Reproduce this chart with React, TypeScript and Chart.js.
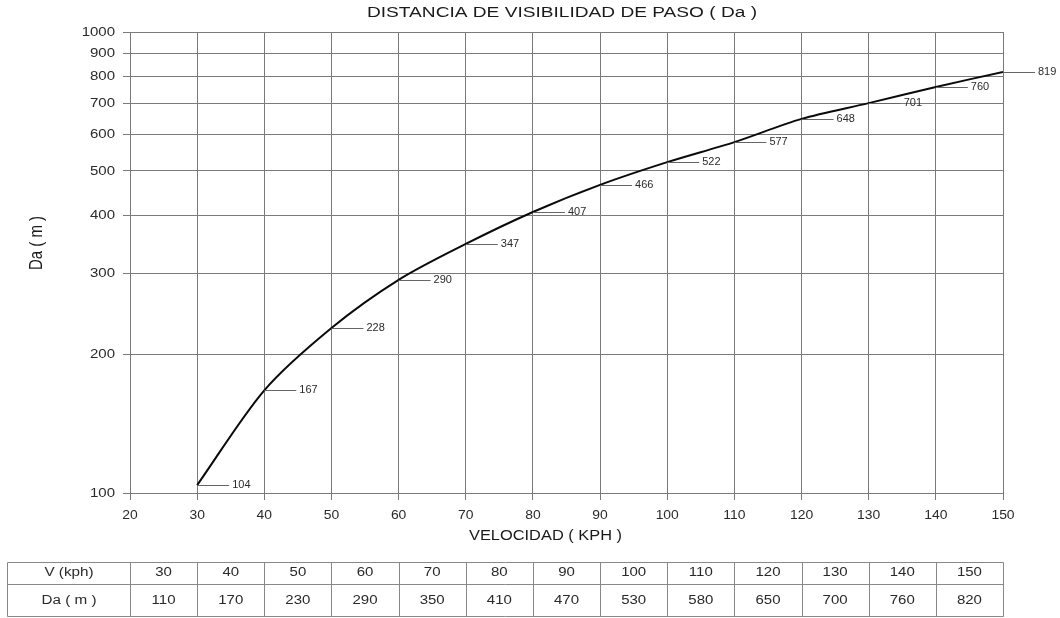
import React, { useEffect, useRef } from "react";
import { Chart, registerables } from "chart.js";

Chart.register(...registerables);

const chartTitle = "DISTANCIA DE VISIBILIDAD DE PASO ( Da )";
const xTitle = "VELOCIDAD ( KPH )";
const yTitle = "Da ( m )";

const speeds = [30, 40, 50, 60, 70, 80, 90, 100, 110, 120, 130, 140, 150];
const distances = [104, 167, 228, 290, 347, 407, 466, 522, 577, 648, 701, 760, 819];
const tableDistances = [110, 170, 230, 290, 350, 410, 470, 530, 580, 650, 700, 760, 820];
const xTicks = [20, 30, 40, 50, 60, 70, 80, 90, 100, 110, 120, 130, 140, 150];
const yTicks = [100, 200, 300, 400, 500, 600, 700, 800, 900, 1000];
const tableRowLabels = ["V (kph)", "Da ( m )"];

const FONT = '"Liberation Sans", Arial, Helvetica, sans-serif';
const GRID = "#7a7a7a";
const TEXT = "#2a2a2a";

function drawText(
  ctx: CanvasRenderingContext2D,
  text: string,
  x: number,
  y: number,
  size: number,
  sx: number,
  align: CanvasTextAlign,
  color: string,
  targetWidth?: number
) {
  ctx.save();
  ctx.font = `${size}px ${FONT}`;
  ctx.fillStyle = color;
  ctx.textAlign = align;
  ctx.textBaseline = "middle";
  let s = sx;
  if (targetWidth) {
    const w = ctx.measureText(text).width;
    s = targetWidth / w;
  }
  ctx.translate(x, y);
  ctx.scale(s, 1);
  ctx.fillText(text, 0, 0);
  ctx.restore();
}

const overlayPlugin = {
  id: "overlay",
  afterDraw(chart: any) {
    const ctx: CanvasRenderingContext2D = chart.ctx;
    const xs = chart.scales.x;
    const ys = chart.scales.y;

    // Title
    drawText(ctx, chartTitle, 562, 13, 14, 1, "center", "#1a1a1a", 390);
    // X title
    drawText(ctx, xTitle, 545.5, 536, 14, 1, "center", "#1a1a1a", 153);
    // Y title (rotated)
    ctx.save();
    ctx.font = `15px ${FONT}`;
    ctx.fillStyle = "#1a1a1a";
    ctx.textAlign = "center";
    ctx.textBaseline = "alphabetic";
    ctx.translate(42, 243);
    ctx.rotate(-Math.PI / 2);
    ctx.scale(1, 1.25);
    ctx.fillText(yTitle, 0, 0);
    ctx.restore();

    // Y tick labels
    yTicks.forEach((v) => {
      drawText(ctx, String(v), 115, ys.getPixelForValue(v) + 0.5, 12, 1.25, "right", TEXT);
    });
    // X tick labels
    xTicks.forEach((v) => {
      drawText(ctx, String(v), xs.getPixelForValue(v), 515, 13, 1.07, "center", TEXT);
    });

    // Point leader lines and value labels
    speeds.forEach((s, i) => {
      const px = xs.getPixelForValue(s);
      const py = Math.round(ys.getPixelForValue(distances[i])) + 0.5;
      ctx.save();
      ctx.strokeStyle = "#666666";
      ctx.lineWidth = 1;
      ctx.beginPath();
      ctx.moveTo(px, py);
      ctx.lineTo(px + 32, py);
      ctx.stroke();
      ctx.restore();
      drawText(ctx, String(distances[i]), px + 35, py, 10, 1.1, "left", TEXT);
    });

    // Table
    const left = 7.5;
    const top = 562.5;
    const mid = 584.5;
    const bottom = 616.5;
    const colX = xTicks.map((v) => Math.round(xs.getPixelForValue(v)) + 0.5);
    const right = colX[colX.length - 1];
    ctx.save();
    ctx.strokeStyle = "#888888";
    ctx.lineWidth = 1;
    ctx.beginPath();
    [top, mid, bottom].forEach((y) => {
      ctx.moveTo(left, y);
      ctx.lineTo(right, y);
    });
    [left, ...colX].forEach((x) => {
      ctx.moveTo(x, top);
      ctx.lineTo(x, bottom);
    });
    ctx.stroke();
    ctx.restore();

    const rowY = [573, 601];
    const firstCenter = (left + colX[0]) / 2;
    drawText(ctx, tableRowLabels[0], firstCenter, rowY[0], 12.5, 1.22, "center", TEXT);
    drawText(ctx, tableRowLabels[1], firstCenter, rowY[1], 12.5, 1.22, "center", TEXT);
    speeds.forEach((s, i) => {
      const cx = (xs.getPixelForValue(s - 10) + xs.getPixelForValue(s)) / 2;
      drawText(ctx, String(s), cx, rowY[0], 12.5, 1.2, "center", TEXT);
      drawText(ctx, String(tableDistances[i]), cx, rowY[1], 12.5, 1.2, "center", TEXT);
    });
  },
};

export default function App() {
  const ref = useRef<HTMLCanvasElement | null>(null);

  useEffect(() => {
    if (!ref.current) return;
    const chart = new Chart(ref.current, {
      type: "line",
      data: {
        datasets: [
          {
            data: speeds.map((s, i) => ({ x: s, y: distances[i] })),
            borderColor: "#0a0a0a",
            borderWidth: 2,
            pointRadius: 0,
            tension: 0.3,
            fill: false,
          },
        ],
      },
      options: {
        responsive: false,
        animation: false,
        devicePixelRatio: 1,
        layout: { padding: { left: 0, right: 57, top: 32, bottom: 0 } },
        plugins: {
          legend: { display: false },
          tooltip: { enabled: false },
          title: { display: false },
        },
        scales: {
          x: {
            type: "linear",
            min: 20,
            max: 150,
            afterBuildTicks: (scale: any) => {
              scale.ticks = xTicks.map((v) => ({ value: v }));
            },
            afterFit: (scale: any) => {
              scale.height = 125;
            },
            ticks: { color: "rgba(0,0,0,0)", font: { size: 12 }, autoSkip: false, maxRotation: 0 },
            grid: { color: GRID, lineWidth: 1, tickLength: 7, drawTicks: true },
            border: { display: true, color: GRID },
          },
          y: {
            type: "logarithmic",
            min: 100,
            max: 1000,
            afterBuildTicks: (scale: any) => {
              scale.ticks = yTicks.map((v) => ({ value: v }));
            },
            afterFit: (scale: any) => {
              scale.width = 130;
            },
            ticks: { color: "rgba(0,0,0,0)", font: { size: 12 }, autoSkip: false },
            grid: { color: GRID, lineWidth: 1, tickLength: 7, drawTicks: true },
            border: { display: true, color: GRID },
          },
        },
      },
      plugins: [overlayPlugin],
    } as any);
    return () => chart.destroy();
  }, []);

  return (
    <canvas
      ref={ref}
      width={1060}
      height={618}
      style={{ position: "fixed", left: 0, top: 0, width: 1060, height: 618, background: "#fff" }}
    />
  );
}
